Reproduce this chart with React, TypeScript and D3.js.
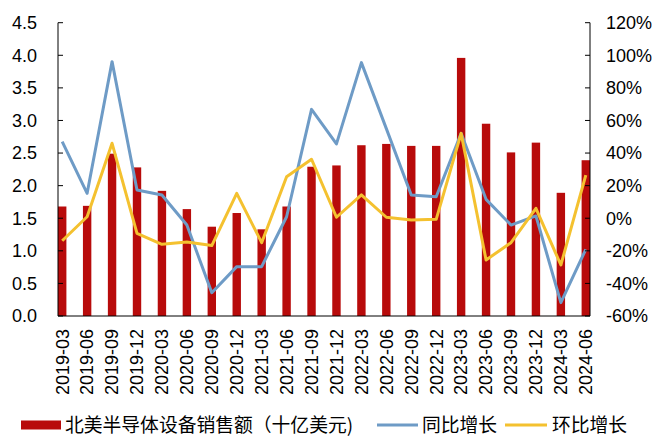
import React from "react";
import * as d3 from "d3";

const categories = ["2019-03","2019-06","2019-09","2019-12","2020-03","2020-06","2020-09","2020-12","2021-03","2021-06","2021-09","2021-12","2022-03","2022-06","2022-09","2022-12","2023-03","2023-06","2023-09","2023-12","2024-03","2024-06"];
const sales = [1.68,1.69,2.49,2.28,1.92,1.64,1.37,1.58,1.33,1.68,2.29,2.31,2.62,2.64,2.61,2.61,3.96,2.95,2.51,2.66,1.89,2.39];
const yoy = [47.0,15.3,96.1,17.3,14.3,-4.2,-45.7,-29.7,-29.7,0.9,66.8,45.6,95.5,55.0,14.3,13.2,52.1,11.6,-4.2,1.4,-51.8,-19.1];
const qoq = [-13.8,0.9,46.0,-9.3,-16.0,-14.6,-16.8,15.3,-15.0,25.5,36.2,0.6,14.3,0.6,-1.1,-0.7,52.1,-25.6,-15.0,6.1,-28.7,26.5];
const leftTicks = [0,0.5,1,1.5,2,2.5,3,3.5,4,4.5];
const rightTicks = [-60,-40,-20,0,20,40,60,80,100,120];
const legendLabels = ["北美半导体设备销售额（十亿美元)","同比增长","环比增长"];

const RED = "#B80B0B";
const BLUE = "#6E9BC6";
const YELLOW = "#F4C12F";

export default function App() {
  const W = 658, H = 444;
  const left = 58, right = 590, top = 22.7, bottom = 316;
  const barW = 8.4;
  const x = d3.scalePoint<string>().domain(categories).range([left + barW / 2, right - barW / 2]);
  const yL = d3.scaleLinear().domain([0, 4.5]).range([bottom, top]);
  const yR = d3.scaleLinear().domain([-60, 120]).range([bottom, top]);
  const lineGen = (vals: number[]) =>
    d3.line<number>().x((_, i) => x(categories[i]) as number).y((v) => yR(v))(vals) as string;
  const font = "'Liberation Sans', Arial, sans-serif";
  const cjk = "'Noto Sans CJK SC', 'Liberation Sans', sans-serif";

  return (
    <svg width={W} height={H} style={{ position: "absolute", left: 0, top: 0, background: "#fff" }}>
      <rect x={0} y={0} width={W} height={H} fill="#fff" />
      {sales.map((v, i) => (
        <rect key={i} x={(x(categories[i]) as number) - barW / 2} y={yL(v)} width={barW} height={yL(0) - yL(v)} fill={RED} />
      ))}
      <path d={lineGen(yoy)} fill="none" stroke={BLUE} strokeWidth={3} strokeLinejoin="round" />
      <path d={lineGen(qoq)} fill="none" stroke={YELLOW} strokeWidth={3} strokeLinejoin="round" />
      {/* axes */}
      <line x1={left} x2={left} y1={top} y2={bottom} stroke="#000" strokeWidth={1} />
      <line x1={right} x2={right} y1={top} y2={bottom} stroke="#000" strokeWidth={1} />
      <line x1={left} x2={right} y1={bottom} y2={bottom} stroke="#000" strokeWidth={1} />
      {leftTicks.map((t) => (
        <g key={"l" + t}>
          <line x1={left} x2={left + 5} y1={yL(t)} y2={yL(t)} stroke="#000" />
          <text x={37} y={yL(t)} dy="0.35em" textAnchor="end" fontSize={18} fontFamily={font} fill="#000">{t.toFixed(1)}</text>
        </g>
      ))}
      {rightTicks.map((t) => (
        <g key={"r" + t}>
          <line x1={right - 5} x2={right} y1={yR(t)} y2={yR(t)} stroke="#000" />
          <text x={606} y={yR(t)} dy="0.35em" textAnchor="start" fontSize={18} fontFamily={font} fill="#000">{t + "%"}</text>
        </g>
      ))}
      {categories.map((c) => (
        <text key={c} transform={`translate(${x(c)},${329}) rotate(-90)`} dy="0.35em" textAnchor="end" fontSize={18} fontFamily={font} fill="#000">{c}</text>
      ))}
      {/* legend */}
      <rect x={21} y={420.5} width={40} height={9} fill={RED} />
      <text x={65} y={425} dy="0.35em" fontSize={18.8} fontFamily={cjk} fill="#000">{legendLabels[0]}</text>
      <line x1={377} x2={418} y1={425} y2={425} stroke={BLUE} strokeWidth={3} />
      <text x={422} y={425} dy="0.35em" fontSize={18.8} fontFamily={cjk} fill="#000">{legendLabels[1]}</text>
      <line x1={505} x2={547} y1={425} y2={425} stroke={YELLOW} strokeWidth={3} />
      <text x={552} y={425} dy="0.35em" fontSize={18.8} fontFamily={cjk} fill="#000">{legendLabels[2]}</text>
    </svg>
  );
}
